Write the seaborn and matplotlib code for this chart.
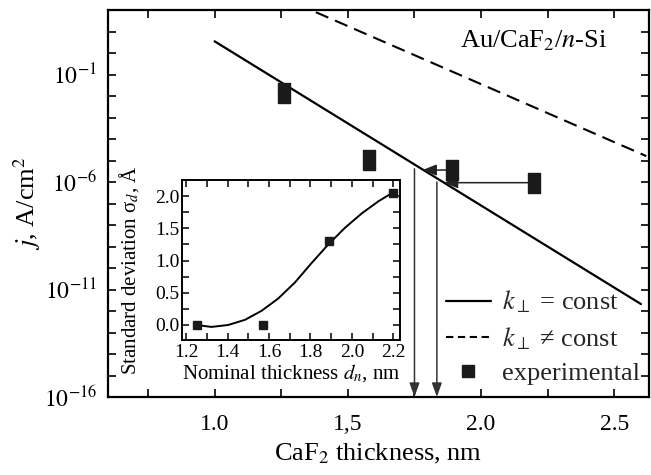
import numpy as np
import matplotlib
matplotlib.use("Agg")
import matplotlib.pyplot as plt
from matplotlib.lines import Line2D
from matplotlib.ticker import MultipleLocator, LogLocator, NullFormatter, FormatStrFormatter
import seaborn as sns

# main plot data
solid_x = [1.0, 2.6]
solid_j = [3.5, 2.1e-12]
dashed_x = [1.38, 2.62]
dashed_j = [79.0, 1.6e-5]
exp_x = [1.26, 1.58, 1.89, 2.2]
exp_j = [1.35e-2, 1.1e-5, 3.6e-6, 9.3e-7]

# arrows: horizontal (from experiment to the solid line), vertical (down to the axis)
harrow_from = [2.2, 1.89]
harrow_to = [1.86, 1.78]
harrow_j = [9.3e-7, 3.6e-6]
varrow_x = [1.75, 1.834]
varrow_top = [4.1e-6, 1.0e-6]

# inset data
dn = [1.25, 1.57, 1.89, 2.2]
sigma = [0.0, 0.0, 1.3, 2.05]
fit_x = [1.25, 1.322, 1.403, 1.484, 1.564, 1.644, 1.725, 1.805, 1.886, 1.967, 2.047, 2.128, 2.2]
fit_y = [0.0, -0.03, 0.0, 0.08, 0.22, 0.41, 0.66, 0.96, 1.25, 1.51, 1.73, 1.92, 2.06]

sns.set_theme(style="ticks")
plt.rcParams["font.family"] = ["Liberation Serif", "DejaVu Serif"]
plt.rcParams["mathtext.fontset"] = "stix"

fig = plt.figure(figsize=(6.51, 4.75), dpi=100)
ax = fig.add_axes([108 / 651, 78 / 475, 541 / 651, 387 / 475])

sns.lineplot(x=solid_x, y=solid_j, ax=ax, color="black", lw=1.6)
sns.lineplot(x=dashed_x, y=dashed_j, ax=ax, color="black", lw=1.5, linestyle=(0, (6.5, 3.5)))

# tall rectangular markers
rect = [(-0.28, -0.5), (0.28, -0.5), (0.28, 0.5), (-0.28, 0.5), (-0.28, -0.5)]
ax.plot(exp_x, exp_j, ls="", marker=rect, ms=15, color="#1a1a1a", zorder=5)

for x0, x1, yj in zip(harrow_from, harrow_to, harrow_j):
    ax.annotate("", xy=(x1, yj), xytext=(x0, yj),
                arrowprops=dict(arrowstyle="-|>,head_length=0.7,head_width=0.28",
                                color="#222222", lw=1.1, shrinkA=0, shrinkB=0,
                                mutation_scale=12))
for xv, yt in zip(varrow_x, varrow_top):
    ax.annotate("", xy=(xv, 1e-16), xytext=(xv, yt),
                arrowprops=dict(arrowstyle="-|>,head_length=0.7,head_width=0.25",
                                color="#333333", lw=1.1, shrinkA=0, shrinkB=0,
                                mutation_scale=12))

ax.set_yscale("log")
ax.set_xlim(0.6, 2.63)
ax.set_ylim(1e-16, 1e2)
ax.set_xticks([1.0, 1.5, 2.0, 2.5], labels=["1.0", "1,5", "2.0", "2.5"])
ax.xaxis.set_minor_locator(MultipleLocator(0.25))
ax.set_yticks([1e-16, 1e-11, 1e-6, 1e-1],
              labels=[r"$10^{-16}$", r"$10^{-11}$", r"$10^{-6}$", r"$10^{-1}$"])
ax.yaxis.set_minor_locator(LogLocator(base=10, subs=(1.0,), numticks=40))
ax.yaxis.set_minor_formatter(NullFormatter())
ax.tick_params(which="both", direction="in", top=True, right=True, width=1.2,
               length=6, color="black", labelsize=17, labelcolor="black")
ax.tick_params(axis="x", pad=12)
ax.tick_params(axis="y", pad=8)
for s in ax.spines.values():
    s.set_linewidth(1.6)
    s.set_color("black")

ax.set_xlabel("CaF$_2$ thickness, nm", fontsize=19, color="black")
ax.set_ylabel("$j$, A/cm$^2$", fontsize=19, color="black")
ax.xaxis.set_label_coords(0.5, -0.115)
ax.yaxis.set_label_coords(-0.12, 0.5)

ax.text(0.922, 0.92, "Au/CaF$_2$/$n$-Si", transform=ax.transAxes, ha="right",
        va="center", fontsize=19, color="black")

handles = [Line2D([], [], color="black", lw=1.6),
           Line2D([], [], color="black", lw=1.5, linestyle=(0, (3.5, 2.2))),
           Line2D([], [], ls="", marker="s", ms=9, color="#1a1a1a")]
labels = [r"$k_{\perp}$ = const", r"$k_{\perp}$ ≠ const", "experimental"]
ax.legend(handles, labels, loc="lower left", bbox_to_anchor=(0.59, -0.018),
          frameon=False, fontsize=19, handlelength=1.7, handletextpad=0.45,
          labelspacing=0.38, borderpad=0.2)

# inset
axi = fig.add_axes([182 / 651, 135 / 475, 218 / 651, 160 / 475])
sns.lineplot(x=fit_x, y=fit_y, ax=axi, color="black", lw=1.4)
axi.plot(dn, sigma, ls="", marker="s", ms=6, color="#1a1a1a", zorder=5)
axi.set_xlim(1.18, 2.232)
axi.set_ylim(-0.233, 2.25)
axi.set_xticks([1.2, 1.4, 1.6, 1.8, 2.0, 2.2])
axi.xaxis.set_minor_locator(MultipleLocator(0.1))
axi.set_yticks([0.0, 0.5, 1.0, 1.5, 2.0])
axi.yaxis.set_minor_locator(MultipleLocator(0.25))
axi.yaxis.set_major_formatter(FormatStrFormatter("%.1f"))
axi.xaxis.set_major_formatter(FormatStrFormatter("%.1f"))
axi.tick_params(which="both", direction="in", top=True, right=True, width=1.1,
                length=5, color="black", labelsize=14, labelcolor="black")
axi.tick_params(axis="x", pad=3)
axi.tick_params(axis="y", pad=2)
for s in axi.spines.values():
    s.set_linewidth(1.4)
    s.set_color("black")
axi.set_xlabel("Nominal thickness $d_n$, nm", fontsize=15, color="black")
axi.set_ylabel("Standard deviation σ$_d$, Å", fontsize=15, color="black")
axi.xaxis.set_label_coords(0.5, -0.135)
axi.yaxis.set_label_coords(-0.19, 0.435)

fig.savefig("out.png", dpi=100)
